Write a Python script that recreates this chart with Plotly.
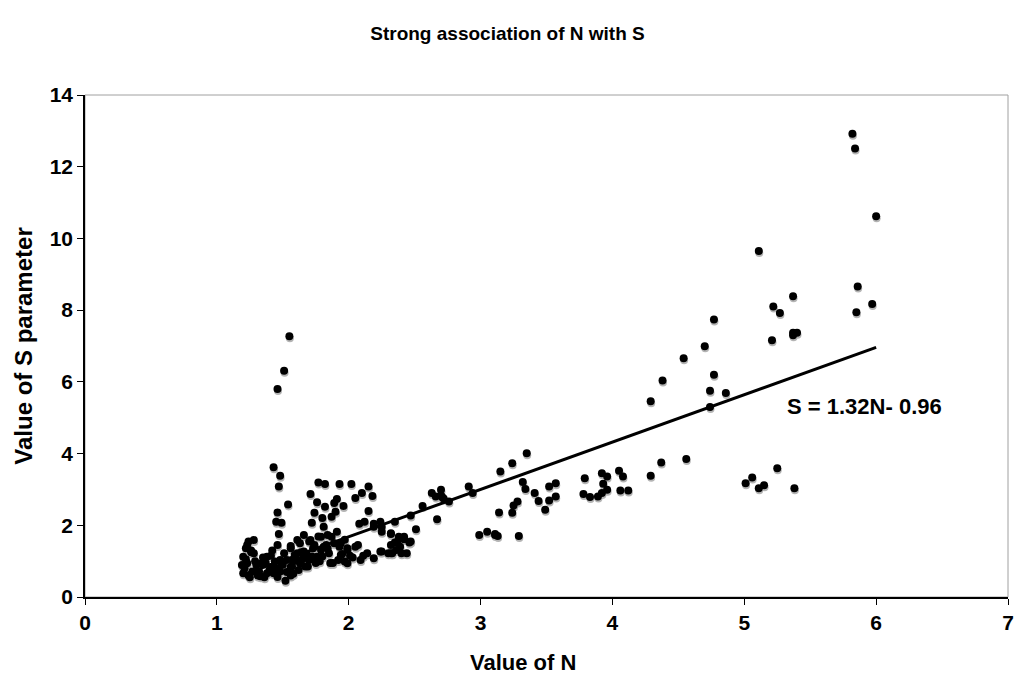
import plotly.graph_objects as go

# Value of N (x) and Value of S parameter (y)
N_values = [
    1.46, 1.51, 1.55, 1.43, 1.48, 1.47, 1.54, 1.46, 1.45, 1.49, 1.47, 1.46,
    1.77, 1.82, 1.93, 2.02, 2.15, 1.71, 1.76, 1.82, 1.91, 1.89, 1.96, 1.90,
    1.87, 1.74, 1.72, 1.80, 1.81, 2.05, 2.10, 2.18, 2.15, 2.08, 2.12, 2.19,
    2.24, 2.25, 2.32, 2.38, 2.42, 2.46, 2.35, 2.39, 2.44, 2.51, 2.47, 2.56,
    2.63, 2.70, 2.66, 2.76, 2.91, 2.94, 2.67, 2.99, 3.05, 3.11, 3.14, 3.15,
    2.09, 2.14, 2.19, 2.25, 2.30, 2.36, 2.40, 1.99, 1.92, 1.99, 2.07, 1.94,
    1.87, 1.91, 1.84, 1.79, 1.71, 1.66, 1.63, 1.56, 1.61, 1.70, 1.76, 1.79,
    1.85, 1.56, 1.53, 1.51, 1.48, 1.46, 1.56, 1.58, 1.62, 1.63, 1.41, 1.38,
    1.43, 1.48, 1.32, 1.27, 1.20, 1.19, 1.20, 1.22, 1.24, 1.28, 1.23, 1.28,
    1.23, 1.30, 1.34, 1.38, 1.44,
    2.19, 2.25, 2.37, 2.32, 2.24, 2.32, 1.97, 1.94, 1.99, 2.05, 1.61, 1.70,
    1.77, 1.89, 1.81, 1.73, 1.66, 1.59, 1.57, 1.63, 1.72, 1.80, 1.56,
    2.71, 2.35, 2.32, 2.42, 2.47, 2.33, 2.70, 2.72,
    1.25, 1.21, 1.26, 1.31, 1.35, 1.40, 1.52, 1.60, 1.67, 1.75, 1.83, 1.68,
    1.50, 1.42, 1.36, 1.93, 2.01, 1.97, 1.86, 1.65,
    1.22, 1.24, 1.26, 1.29, 1.33, 1.37, 1.41, 1.45, 1.49, 1.53, 1.58, 1.64,
    1.69, 1.74, 1.78, 1.84, 1.88, 1.95, 2.03, 2.11,
    3.35, 3.24, 4.56, 4.37, 4.29, 4.05, 4.08, 4.06, 4.12, 3.92, 3.96, 3.93,
    3.96, 3.92, 3.89, 3.79, 3.78, 3.83, 3.57, 3.52, 3.57, 3.52, 3.49, 3.44,
    3.41, 3.34, 3.32, 3.28, 3.25, 3.24, 3.29, 3.13, 3.11,
    5.82, 5.84, 6.00, 5.11, 5.37, 5.22, 5.27, 5.86, 5.97, 5.85, 4.77, 4.70,
    4.54, 4.38, 4.77, 4.74, 4.86, 4.74, 5.21, 5.37, 5.40, 5.37, 4.29, 5.01,
    5.06, 5.11, 5.15, 5.25, 5.38,
]
S_values = [
    5.80, 6.31, 7.27, 3.62, 3.38, 3.08, 2.58, 2.36, 2.10, 2.07, 1.76, 1.45,
    3.19, 3.15, 3.15, 3.15, 3.08, 2.87, 2.64, 2.52, 2.73, 2.62, 2.54, 2.38,
    2.24, 2.35, 2.07, 2.20, 1.96, 2.76, 2.90, 2.82, 2.40, 2.04, 2.10, 2.04,
    2.10, 1.96, 1.76, 1.68, 1.61, 1.52, 1.52, 1.40, 1.22, 1.89, 2.27, 2.54,
    2.90, 2.99, 2.80, 2.66, 3.08, 2.90, 2.17, 1.73, 1.82, 1.73, 2.36, 3.50,
    1.03, 1.22, 1.08, 1.27, 1.22, 1.31, 1.22, 0.94, 1.03, 1.31, 1.45, 1.50,
    1.68, 1.82, 1.73, 1.68, 1.59, 1.73, 1.50, 1.42, 1.22, 1.03, 1.12, 1.31,
    1.22, 0.84, 1.03, 1.22, 1.03, 0.56, 0.60, 0.65, 0.75, 0.94, 0.84, 0.66,
    0.66, 0.71, 0.71, 0.71, 0.66, 0.89, 1.12, 1.36, 1.55, 1.59, 1.45, 1.22,
    0.94, 0.89, 0.94, 1.12, 0.99,
    1.96, 1.82, 1.55, 1.45, 1.27, 1.22, 0.99, 1.17, 1.36, 1.40, 1.59, 1.55,
    1.69, 1.50, 1.40, 1.36, 1.27, 1.17, 0.85, 0.99, 1.13, 1.13, 1.36,
    2.78, 2.10, 1.78, 1.68, 1.55, 1.22, 2.83, 2.75,
    0.55, 0.80, 1.30, 0.60, 1.10, 0.75, 0.45, 1.05, 0.85, 0.95, 1.45, 1.20,
    0.90, 1.30, 0.55, 1.40, 1.15, 1.60, 0.95, 1.05,
    1.05, 0.60, 1.25, 1.00, 0.58, 0.95, 1.15, 0.80, 0.90, 0.70, 1.00, 1.25,
    0.85, 1.45, 1.00, 1.35, 0.95, 1.20, 1.10, 1.15,
    4.01, 3.73, 3.85, 3.75, 3.38, 3.52, 3.36, 2.97, 2.97, 3.45, 3.36, 3.16,
    2.99, 2.90, 2.80, 3.31, 2.87, 2.79, 3.17, 3.08, 2.80, 2.69, 2.43, 2.68,
    2.90, 3.01, 3.21, 2.66, 2.55, 2.35, 1.70, 1.70, 1.76,
    12.92, 12.51, 10.62, 9.65, 8.39, 8.10, 7.92, 8.66, 8.17, 7.94, 7.74, 6.99,
    6.66, 6.04, 6.20, 5.75, 5.69, 5.30, 7.16, 7.37, 7.37, 7.30, 5.46, 3.17,
    3.33, 3.03, 3.12, 3.59, 3.03,
]

slope = 1.32
intercept = -0.96
equation_text = "<b>S = 1.32N- 0.96</b>"
title_text = "<b>Strong association of N with S</b>"
x_title = "<b>Value of N</b>"
y_title = "<b>Value of S parameter</b>"
x_ticks = [0, 1, 2, 3, 4, 5, 6, 7]
y_ticks = [0, 2, 4, 6, 8, 10, 12, 14]

FONT = "Liberation Sans, Arial, sans-serif"

# shadow offset ~2px in data units (plot height 502 px for 14 units)
shadow_dy = 2 * 14 / 502
shadow_dx = 0.5 * 7 / 923

n_min, n_max = min(N_values), max(N_values)
trend_x = [n_min, n_max]
trend_y = [slope * v + intercept for v in trend_x]

fig = go.Figure()
fig.add_trace(go.Scatter(
    x=[v + shadow_dx for v in N_values], y=[v - shadow_dy for v in S_values],
    mode="markers", marker=dict(size=8, color="#b4b4b4", line=dict(width=0)),
    hoverinfo="skip", showlegend=False))
fig.add_trace(go.Scatter(
    x=N_values, y=S_values, mode="markers",
    marker=dict(size=8, color="black", line=dict(width=0)), showlegend=False))
fig.add_trace(go.Scatter(
    x=trend_x, y=trend_y, mode="lines",
    line=dict(color="black", width=3), showlegend=False))

fig.add_annotation(x=5.91, y=5.31, text=equation_text, showarrow=False,
                   font=dict(family=FONT, size=22, color="black"))

# x-axis title placed as annotation (slightly left of the plot centre, as in the reference)
fig.add_annotation(x=(523 - 85) / 923, xref="paper", y=-66 / 502, yref="paper",
                   text=x_title, showarrow=False, xanchor="center", yanchor="middle",
                   font=dict(family=FONT, size=22, color="black"))

# gray frame for top/right
fig.add_shape(type="rect", xref="paper", yref="paper", x0=0, y0=0, x1=1, y1=1,
              line=dict(color="#a0a0a0", width=1), layer="below")

fig.update_layout(
    width=1015, height=677,
    margin=dict(l=85, r=7, t=95, b=80),
    paper_bgcolor="white", plot_bgcolor="white",
    title=dict(text=title_text, x=0.5, xanchor="center", y=1 - 33 / 677, yanchor="middle",
               font=dict(family=FONT, size=19, color="black")),
    font=dict(family=FONT, color="black"),
)
fig.update_xaxes(range=[0, 7], tickvals=x_ticks, ticktext=[f"<b>{v}</b>" for v in x_ticks],
                 showgrid=False, zeroline=False, automargin=False,
                 showline=True, linecolor="black", linewidth=1.5,
                 ticks="outside", ticklen=6, tickcolor="black",
                 tickfont=dict(family=FONT, size=21))
fig.update_yaxes(range=[0, 14], tickvals=y_ticks, ticktext=[f"<b>{v}</b>" for v in y_ticks],
                 showgrid=False, zeroline=False, automargin=False,
                 showline=True, linecolor="black", linewidth=1.5,
                 ticks="outside", ticklen=6, tickcolor="black",
                 tickfont=dict(family=FONT, size=21),
                 title=dict(text=y_title, standoff=10,
                            font=dict(family=FONT, size=24)))

fig.write_html("out.html", config={"displayModeBar": False},
               post_script="document.body.style.margin='0';")
